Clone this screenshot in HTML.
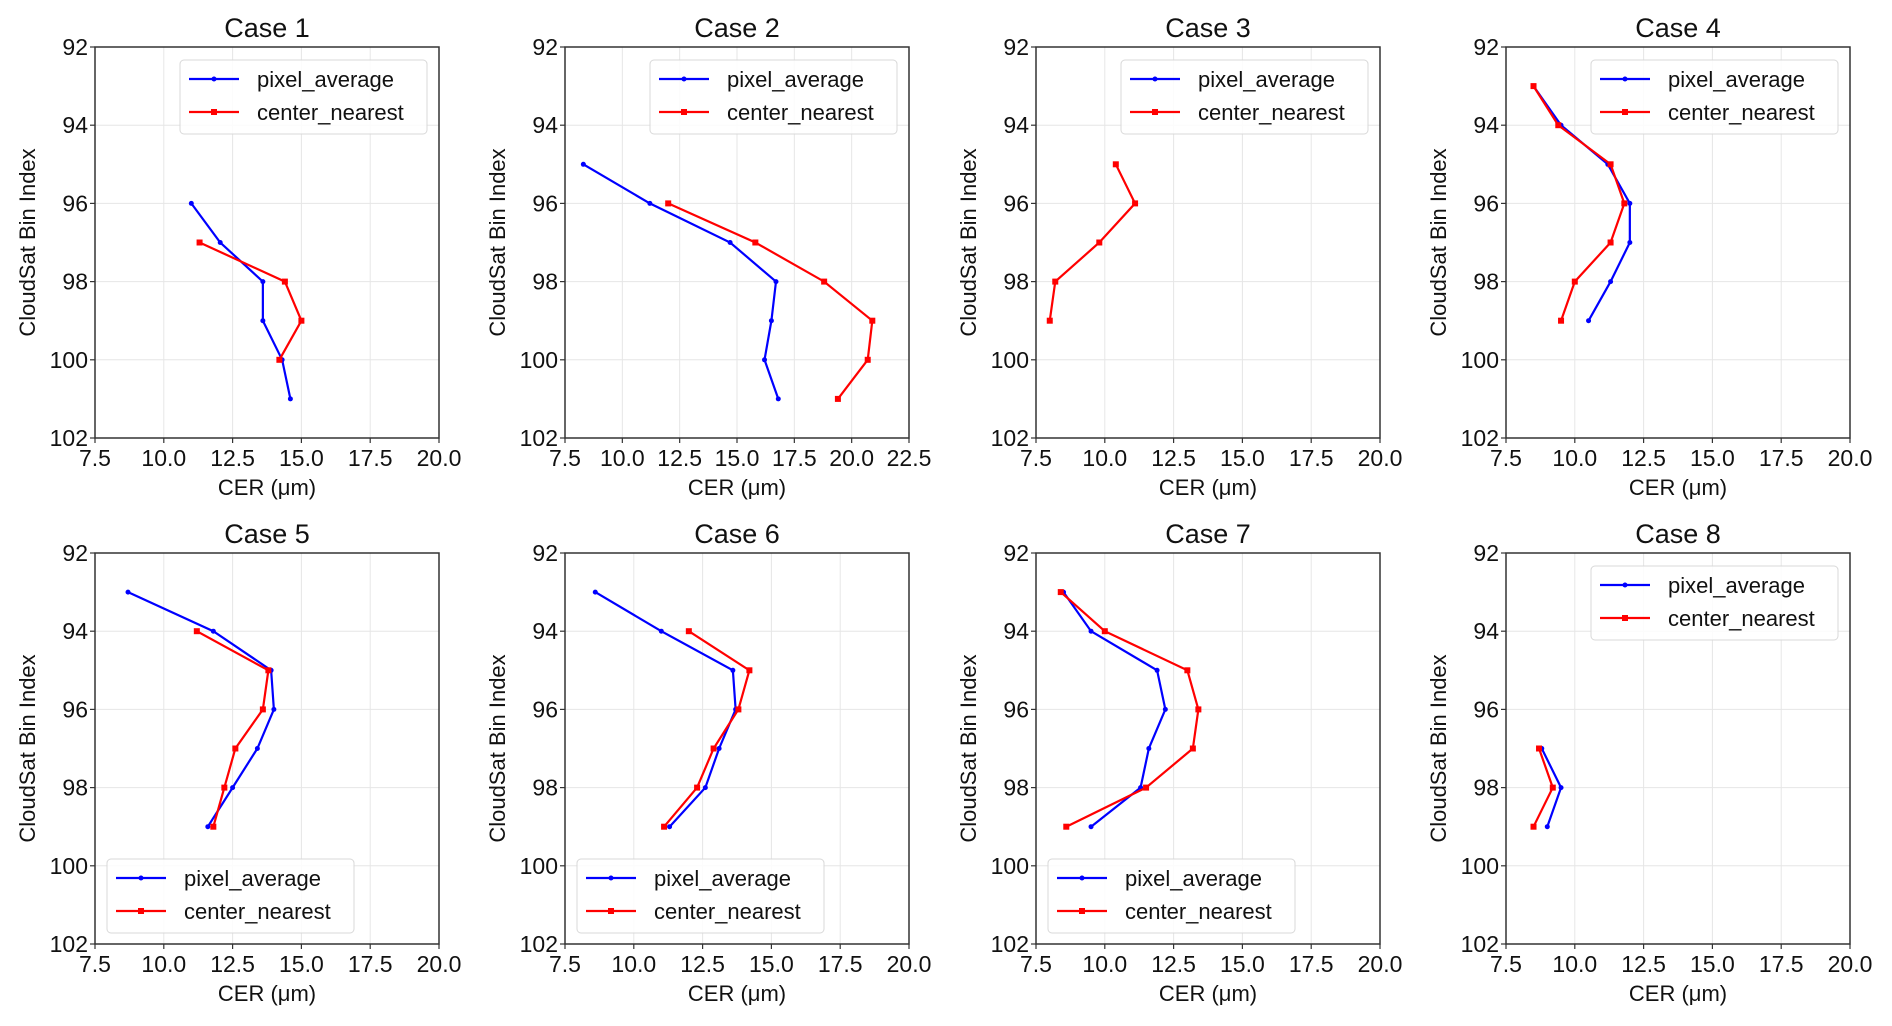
<!DOCTYPE html>
<html><head><meta charset="utf-8"><style>
html,body{margin:0;padding:0;background:#fff;}
svg{display:block;font-family:"Liberation Sans",Arial,sans-serif;}
</style></head><body>
<svg id="fig" width="1892" height="1026" viewBox="0 0 1892 1026" xmlns="http://www.w3.org/2000/svg"></svg>
<script>
const caseTitles = ["Case 1","Case 2","Case 3","Case 4","Case 5","Case 6","Case 7","Case 8"];
const xMaxes = [20,22.5,20,20,20,20,20,20];
const legendPos = ["ur","ur","ur","ur","ll","ll","ll","ur"];
const blueBins = [[96,97,98,99,100,101],[95,96,97,98,99,100,101],[],[93,94,95,96,97,98,99],[93,94,95,96,97,98,99],[93,94,95,96,97,98,99],[93,94,95,96,97,98,99],[97,98,99]];
const blueVals = [[11.0,12.05,13.6,13.6,14.3,14.6],[8.3,11.2,14.7,16.7,16.5,16.2,16.8],[],[8.5,9.5,11.2,12.0,12.0,11.3,10.5],[8.7,11.8,13.9,14.0,13.4,12.5,11.6],[8.6,11.0,13.6,13.7,13.1,12.6,11.3],[8.5,9.5,11.9,12.2,11.6,11.3,9.5],[8.8,9.5,9.0]];
const redBins = [[97,98,99,100],[96,97,98,99,100,101],[95,96,97,98,99],[93,94,95,96,97,98,99],[94,95,96,97,98,99],[94,95,96,97,98,99],[93,94,95,96,97,98,99],[97,98,99]];
const redVals = [[11.3,14.4,15.0,14.2],[12.0,15.8,18.8,20.9,20.7,19.4],[10.4,11.1,9.8,8.2,8.0],[8.5,9.4,11.3,11.8,11.3,10.0,9.5],[11.2,13.8,13.6,12.6,12.2,11.8],[12.0,14.2,13.8,12.9,12.3,11.1],[8.4,10.0,13.0,13.4,13.2,11.5,8.6],[8.7,9.2,8.5]];
const yTicks = [92,94,96,98,100,102];

const NS="http://www.w3.org/2000/svg";
const svg=document.getElementById('fig');
function mk(tag,attrs,parent,text){const e=document.createElementNS(NS,tag);for(const k in attrs)e.setAttribute(k,attrs[k]);if(text!==undefined)e.textContent=text;(parent||svg).appendChild(e);return e;}
const lefts=[95,565,1036,1506], tops=[47,553], W=344, H=391;
for(let i=0;i<8;i++){
  const ax=lefts[i%4], ay=tops[Math.floor(i/4)];
  const xmin=7.5,xmax=xMaxes[i];
  const sx=v=>ax+(v-xmin)/(xmax-xmin)*W;
  const sy=v=>ay+(v-92)/10*H;
  const g=mk('g',{});
  
  
  const xt=[];for(let v=7.5;v<=xmax+1e-9;v+=2.5)xt.push(v);
  xt.forEach(v=>{
    const l=mk('line',{x1:sx(v),x2:sx(v),y1:ay,y2:ay+H,stroke:'#e6e6e6','stroke-width':1},g);
    
    mk('line',{x1:sx(v),x2:sx(v),y1:ay+H,y2:ay+H+5,stroke:'#333','stroke-width':1.2},g);
    const t=mk('text',{x:sx(v),y:ay+H+28,'text-anchor':'middle','font-size':23,fill:'#111'},g,v.toFixed(1));
    
  });
  yTicks.forEach(v=>{
    const l=mk('line',{x1:ax,x2:ax+W,y1:sy(v),y2:sy(v),stroke:'#e6e6e6','stroke-width':1},g);
    
    mk('line',{x1:ax-5,x2:ax,y1:sy(v),y2:sy(v),stroke:'#333','stroke-width':1.2},g);
    const t=mk('text',{x:ax-7,y:sy(v)+8,'text-anchor':'end','font-size':23,fill:'#111'},g,String(v));
    
  });
  const fr=mk('rect',{x:ax,y:ay,width:W,height:H,fill:'none',stroke:'#333','stroke-width':1.5},g);
  
  const tt=mk('text',{x:ax+W/2,y:ay-10,'text-anchor':'middle','font-size':27,fill:'#111'},g,caseTitles[i]);
  
  const xl=mk('text',{x:ax+W/2,y:ay+H+57,'text-anchor':'middle','font-size':22,fill:'#111'},g,'CER (μm)');
  
  const yl=mk('text',{x:0,y:0,'text-anchor':'middle','font-size':22,fill:'#111',transform:`translate(${ax-60},${ay+H/2}) rotate(-90)`},g,'CloudSat Bin Index');
  
  const series=[[blueBins[i],blueVals[i],'#0000ff','pixel-average'],[redBins[i],redVals[i],'#ff0000','center-nearest']];
  series.forEach(([b,v,c,n])=>{
    if(!v.length)return;
    const pts=v.map((x,k)=>sx(x)+','+sy(b[k])).join(' ');
    const pl=mk('polyline',{points:pts,fill:'none',stroke:c,'stroke-width':2.2},g);
    
    v.forEach((x,k)=>{
      const m=n==='pixel-average'?mk('circle',{cx:sx(x),cy:sy(b[k]),r:2.5,fill:c},g):mk('rect',{x:sx(x)-3,y:sy(b[k])-3,width:6,height:6,fill:c},g);
      
    });
  });
  const lw=247,lh=74;
  const lx=legendPos[i]==='ur'?ax+W-12-lw:ax+12, ly=legendPos[i]==='ur'?ay+13:ay+H-11-lh;
  const lg=mk('g',{},g);
  
  mk('rect',{x:lx,y:ly,width:lw,height:lh,rx:4,fill:'#fff','fill-opacity':0.85,stroke:'#d8d8d8','stroke-width':1},lg);
  [['pixel_average','#0000ff',0],['center_nearest','#ff0000',1]].forEach(([txt,c,k])=>{
    const yy=ly+19+k*33;
    const e=mk('g',{},lg);
    
    mk('line',{x1:lx+9,x2:lx+59,y1:yy,y2:yy,stroke:c,'stroke-width':2.2},e);
    if(k===0)mk('circle',{cx:lx+34,cy:yy,r:2.5,fill:c},e);else mk('rect',{x:lx+31,y:yy-3,width:6,height:6,fill:c},e);
    mk('text',{x:lx+77,y:yy+8,'font-size':22,fill:'#111'},e,txt);
  });
}
</script>
</body></html>
